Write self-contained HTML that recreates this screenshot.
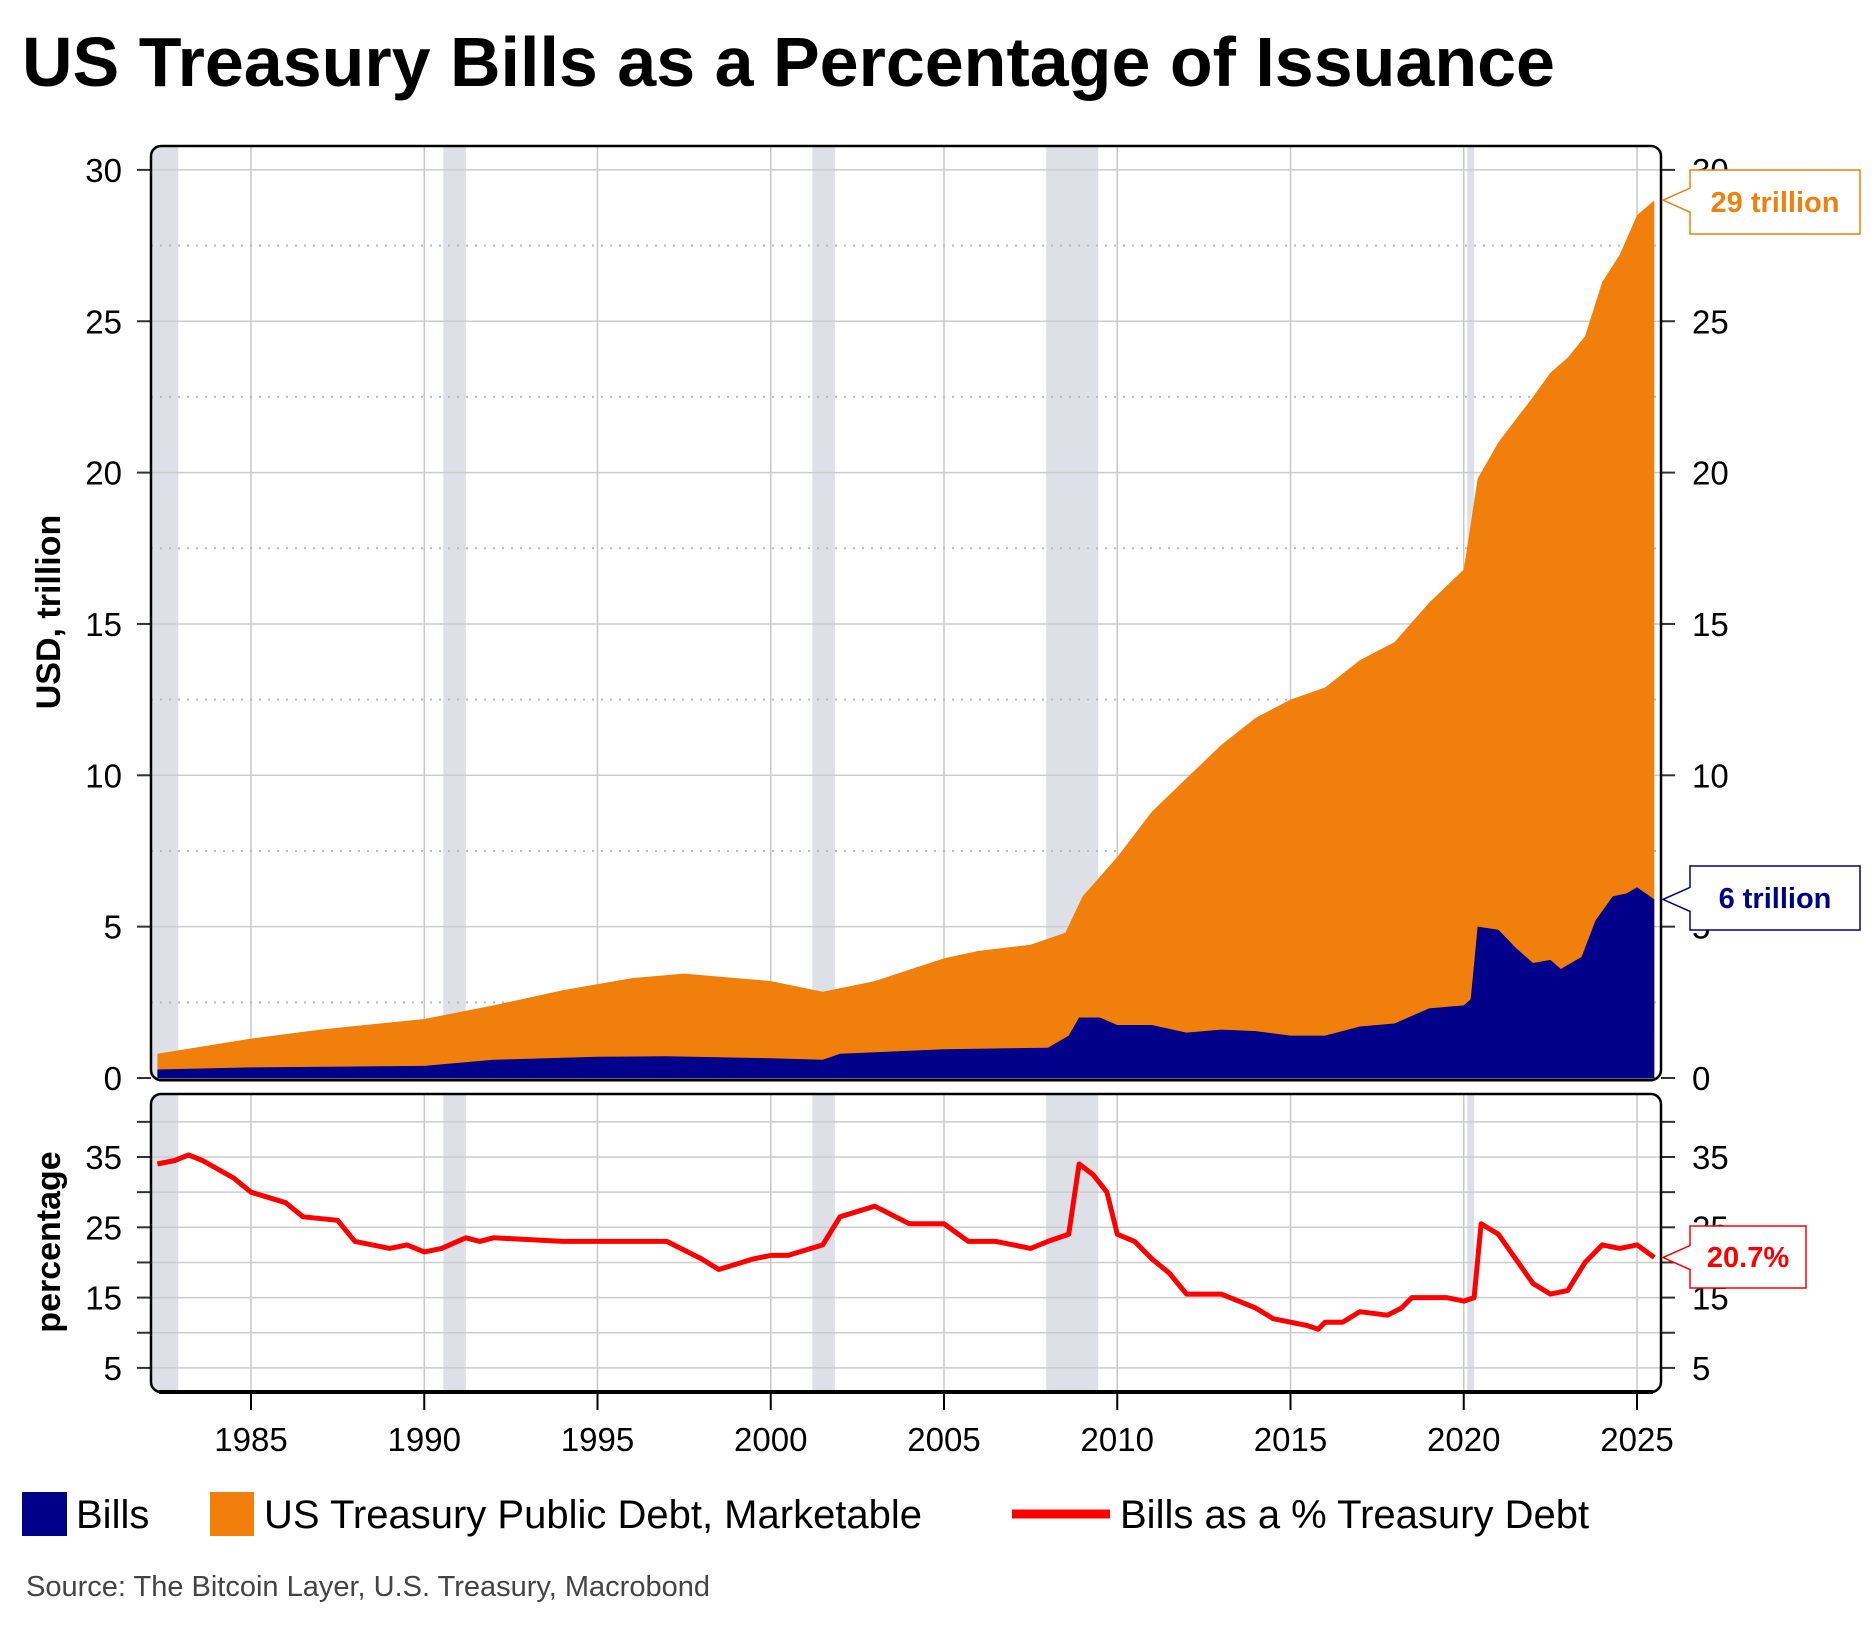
<!DOCTYPE html>
<html><head><meta charset="utf-8"><style>
html,body{margin:0;padding:0;background:#fff;width:1875px;height:1625px;overflow:hidden}
svg{display:block}
text{font-family:"Liberation Sans","DejaVu Sans",sans-serif}
</style></head><body>
<svg id="chart" width="1875" height="1625" viewBox="0 0 1875 1625" xmlns="http://www.w3.org/2000/svg">
<defs>
<clipPath id="clipTop"><rect x="151" y="146" width="1510" height="934" rx="10"/></clipPath>
<clipPath id="clipBot"><rect x="151" y="1094" width="1510" height="298" rx="10"/></clipPath>
</defs>
<text x="22" y="86" font-size="70" font-weight="bold" fill="#000">US Treasury Bills as a Percentage of Issuance</text>
<g id="gtop" clip-path="url(#clipTop)"></g><g id="gbot" clip-path="url(#clipBot)"></g><g id="gaxes"></g>
<text transform="translate(60,612) rotate(-90)" text-anchor="middle" font-size="34" font-weight="bold">USD, trillion</text>
<text transform="translate(60,1242) rotate(-90)" text-anchor="middle" font-size="34" font-weight="bold">percentage</text>
<g font-size="40">
<rect x="22" y="1492" width="45" height="44" fill="#00008b"/>
<text x="76" y="1528">Bills</text>
<rect x="210" y="1492" width="44" height="44" fill="#f07f0c"/>
<text x="264" y="1528">US Treasury Public Debt, Marketable</text>
<line x1="1012" y1="1514" x2="1110" y2="1514" stroke="#ff0000" stroke-width="9"/>
<text x="1120" y="1528">Bills as a % Treasury Debt</text>
</g>
<text x="26" y="1596" font-size="29" fill="#444">Source: The Bitcoin Layer, U.S. Treasury, Macrobond</text>
</svg>
<script>
const years=[1982.3,1985,1987,1990,1992,1994,1996,1997.5,1999,2000,2001.5,2003,2005,2006,2007.5,2008.5,2009,2010,2011,2012,2013,2014,2015,2016,2017,2018,2019,2020,2020.4,2021,2022,2022.5,2023,2023.5,2024,2024.5,2025,2025.5];
const totalDebt=[0.8,1.3,1.6,1.95,2.4,2.9,3.3,3.45,3.3,3.2,2.85,3.2,3.95,4.2,4.4,4.8,6.0,7.3,8.8,9.9,11.0,11.9,12.5,12.9,13.8,14.4,15.7,16.8,19.8,21.0,22.5,23.3,23.8,24.5,26.3,27.2,28.5,29.0];
const billYears=[1982.3,1985,1990,1992,1995,1997,2000,2001.5,2002,2005,2008,2008.6,2008.9,2009.5,2010,2011,2012,2013,2014,2015,2016,2017,2018,2019,2020,2020.2,2020.4,2021,2021.5,2022,2022.5,2022.8,2023.4,2023.8,2024.3,2024.7,2025,2025.5];
const bills=[0.28,0.35,0.4,0.6,0.7,0.72,0.65,0.6,0.8,0.95,1.0,1.4,2.0,2.0,1.75,1.75,1.5,1.6,1.55,1.4,1.4,1.7,1.8,2.3,2.4,2.6,5.0,4.9,4.3,3.8,3.9,3.6,4.0,5.2,6.0,6.1,6.3,5.9];
const pctYears=[1982.3,1982.8,1983.2,1983.6,1984.5,1985,1986,1986.5,1987.5,1988,1989,1989.5,1990,1990.5,1991.2,1991.6,1992,1994,1996,1997,1998,1998.5,1999.5,2000,2000.5,2001.5,2002,2003,2004,2005,2005.7,2006.5,2007.5,2008,2008.6,2008.9,2009.3,2009.7,2010,2010.5,2011,2011.5,2012,2013,2013.5,2014,2014.5,2015,2015.5,2015.8,2016,2016.5,2017,2017.8,2018.2,2018.5,2019.5,2020,2020.3,2020.5,2021,2021.5,2022,2022.5,2023,2023.5,2024,2024.5,2025,2025.5];
const pct=[34,34.5,35.3,34.5,32,30,28.5,26.5,26,23,22,22.5,21.5,22,23.5,23,23.5,23,23,23,20.5,19,20.5,21,21,22.5,26.5,28,25.5,25.5,23,23,22,23,24,34,32.5,30,24,23,20.5,18.5,15.5,15.5,14.5,13.5,12,11.5,11,10.5,11.5,11.5,13,12.5,13.5,15,15,14.5,15,25.5,24,20.5,17,15.5,16,20,22.5,22,22.5,20.7];
const xTicks=[1985,1990,1995,2000,2005,2010,2015,2020,2025];
const usdTicks=[0,5,10,15,20,25,30];
const pctTicks=[5,15,25,35];
const recessions=[[1981.5,1982.9],[1990.55,1991.2],[2001.2,2001.85],[2007.95,2009.45],[2020.1,2020.3]];

(function(){
const NS="http://www.w3.org/2000/svg";
const L=151,R=1661,T1=146,B1=1080,T2=1094,B2=1392;
const X=y=>251+(y-1985)*34.65;
const Y1=v=>1078-v*30.27;
const Y2=v=>1157-(v-35)*7.03;
const svg=document.getElementById('chart');
function mk(tag,attrs,parent){const e=document.createElementNS(NS,tag);for(const k in attrs)e.setAttribute(k,attrs[k]);parent.appendChild(e);return e;}
const gTop=document.getElementById('gtop'),gBot=document.getElementById('gbot'),gAx=document.getElementById('gaxes');

function panel(g,T,B){
  recessions.forEach(r=>{const e=mk('rect',{x:X(r[0]),y:T,width:X(r[1])-X(r[0]),height:B-T,fill:'#dde0e6'},g);
    
    });
  xTicks.forEach(t=>{const e=mk('line',{x1:X(t),x2:X(t),y1:T,y2:B,stroke:'#c8c8c8','stroke-width':1.5},g);
    
    });
}
panel(gTop,T1,B1);panel(gBot,T2,B2);

for(let v=2.5;v<30;v+=5){const e=mk('line',{x1:L,x2:R,y1:Y1(v),y2:Y1(v),stroke:'#bbb','stroke-width':2,'stroke-dasharray':'2,7'},gTop);
  
  }
usdTicks.forEach(t=>{
  const e=mk('line',{x1:L,x2:R,y1:Y1(t),y2:Y1(t),stroke:'#ccc','stroke-width':1.5},gTop);
  
  
  mk('line',{x1:R,x2:R+14,y1:Y1(t),y2:Y1(t),stroke:'#333','stroke-width':2},gAx);
  mk('line',{x1:L-14,x2:L,y1:Y1(t),y2:Y1(t),stroke:'#333','stroke-width':2},gAx);
  const a=mk('text',{x:122,y:Y1(t)+12,'text-anchor':'end','font-size':33},gAx);a.textContent=t;
  
  
  const b=mk('text',{x:1692,y:Y1(t)+12,'font-size':33},gAx);b.textContent=t;
  
  
});
function area(xs,vs,fill,name){
  let d='M'+X(xs[0])+','+Y1(0);
  xs.forEach((x,i)=>d+=' L'+X(x).toFixed(1)+','+Y1(vs[i]).toFixed(1));
  d+=' L'+X(xs[xs.length-1])+','+Y1(0)+'Z';
  const e=mk('path',{d:d,fill:fill},gTop);
  
  
}
area(years,totalDebt,'#f07f0c','debt-area');
area(billYears,bills,'#00008b','bills-area');

for(let v=5;v<=40;v+=5){const e=mk('line',{x1:L,x2:R,y1:Y2(v),y2:Y2(v),stroke:'#ccc','stroke-width':1.5},gBot);
  
  
  mk('line',{x1:R,x2:R+14,y1:Y2(v),y2:Y2(v),stroke:'#333','stroke-width':2},gAx);
  mk('line',{x1:L-14,x2:L,y1:Y2(v),y2:Y2(v),stroke:'#333','stroke-width':2},gAx);}
pctTicks.forEach(t=>{
  const a=mk('text',{x:122,y:Y2(t)+12,'text-anchor':'end','font-size':33},gAx);a.textContent=t;
  
  
  const b=mk('text',{x:1692,y:Y2(t)+12,'font-size':33},gAx);b.textContent=t;
  
  
});
const pl=mk('polyline',{points:pctYears.map((x,i)=>X(x).toFixed(1)+','+Y2(pct[i]).toFixed(1)).join(' '),fill:'none',stroke:'#ff0000','stroke-width':5,'stroke-linejoin':'round'},gBot);



[[T1,B1,'top-frame'],[T2,B2,'bottom-frame']].forEach(f=>{
  const e=mk('rect',{x:L,y:f[0],width:R-L,height:f[1]-f[0],rx:10,fill:'none',stroke:'#000','stroke-width':2.5},gAx);
  
  
});
mk('line',{x1:L+8,x2:R-8,y1:B1,y2:B1,stroke:'#000','stroke-width':3},gAx);
mk('line',{x1:L+8,x2:R-8,y1:B2,y2:B2,stroke:'#000','stroke-width':4},gAx);
xTicks.forEach(t=>{
  mk('line',{x1:X(t),x2:X(t),y1:B2,y2:B2+18,stroke:'#000','stroke-width':2},gAx);
  const a=mk('text',{x:X(t),y:1451,'text-anchor':'middle','font-size':33},gAx);a.textContent=t;
  
  
});

function callout(y0,y1,w,py,color,label,name){
  const x0=1690,x1=x0+w,mid=(y0+y1)/2;
  const d=`M${x0},${y0} L${x1},${y0} L${x1},${y1} L${x0},${y1} L${x0},${py+12} L1663,${py} L${x0},${py-12} Z`;
  const g=mk('g',{},svg);
  
  
  mk('path',{d:d,fill:'#fff',stroke:color,'stroke-width':1.5},g);
  const t=mk('text',{x:x0+w/2,y:mid+10,'text-anchor':'middle','font-size':29,'font-weight':'bold',fill:color},g);t.textContent=label;
}
callout(170,234,170,Y1(totalDebt[totalDebt.length-1]),'#f07f0c','29 trillion','debt-callout');
callout(866,930,170,Y1(bills[bills.length-1]),'#00008b','6 trillion','bills-callout');
callout(1226,1288,116,Y2(pct[pct.length-1]),'#ff0000','20.7%','pct-callout');
})();
</script>
</body></html>
